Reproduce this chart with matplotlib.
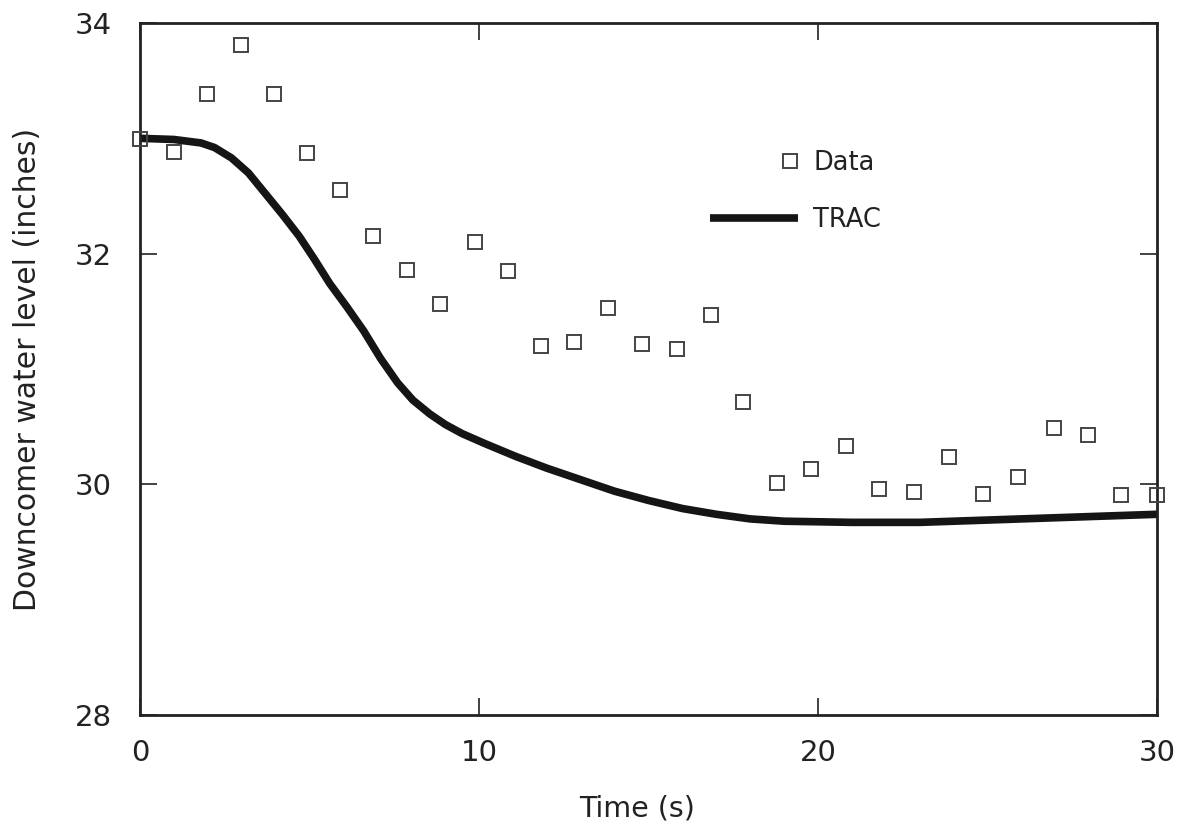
import matplotlib

matplotlib.use("Agg")

import matplotlib.pyplot as plt
from matplotlib.legend_handler import HandlerLine2DCompound

# measured data (squares)
data_t = [0.0, 1.0, 1.99, 2.97, 3.95, 4.92, 5.9, 6.88, 7.87, 8.85, 9.87,
          10.85, 11.83, 12.81, 13.82, 14.82, 15.84, 16.84, 17.8, 18.78,
          19.8, 20.83, 21.81, 22.84, 23.86, 24.87, 25.9, 26.95, 27.95,
          28.94, 30.0]
data_level = [32.99, 32.88, 33.38, 33.81, 33.38, 32.87, 32.55, 32.15, 31.86,
              31.56, 32.10, 31.85, 31.20, 31.23, 31.53, 31.22, 31.17, 31.47,
              30.71, 30.01, 30.13, 30.33, 29.96, 29.93, 30.24, 29.92, 30.06,
              30.49, 30.43, 29.91, 29.91]

# TRAC calculation (line)
trac_t = [0, 1.0, 1.8, 2.2, 2.7, 3.2, 3.7, 4.2, 4.7, 5.15, 5.6, 6.1, 6.6,
          7.1, 7.6, 8.05, 8.55, 9.0, 9.5, 10.2, 11.1, 12.0, 13.1, 14.0, 15.0,
          16.0, 17.0, 18.0, 19.0, 21.0, 23.0, 25.0, 27.0, 30.0]
trac_level = [33.0, 32.99, 32.96, 32.92, 32.83, 32.70, 32.52, 32.34, 32.15,
              31.95, 31.74, 31.54, 31.33, 31.09, 30.88, 30.73, 30.61, 30.52,
              30.44, 30.35, 30.24, 30.14, 30.03, 29.94, 29.86, 29.79, 29.74,
              29.70, 29.68, 29.67, 29.67, 29.69, 29.71, 29.74]

x_ticks = [0, 10, 20, 30]
y_ticks = [28, 30, 32, 34]


class RightMarkerHandler(HandlerLine2DCompound):
    # legend marker sits at the right end of the handle box
    def get_xdata(self, legend, xdescent, ydescent, width, height, fontsize):
        xdata = [-xdescent, -xdescent + width]
        return xdata, [-xdescent + width - 0.3 * fontsize]


plt.rcParams["font.family"] = ["DejaVu Sans"]

fig = plt.figure(figsize=(11.81, 8.30), dpi=100)
ax = fig.add_axes([0.1185, 0.1386, 0.8612, 0.8337])

data_line, = ax.plot(data_t, data_level, linestyle="none", marker="s",
                     markersize=10, markerfacecolor="none",
                     markeredgecolor="#444444", markeredgewidth=1.4,
                     label="Data", clip_on=False, zorder=3)
trac_line, = ax.plot(trac_t, trac_level, color="#151515", linewidth=5.5,
                     solid_capstyle="butt", solid_joinstyle="round",
                     label="TRAC", zorder=2)

ax.set_xlim(0, 30)
ax.set_ylim(28, 34)
ax.set_xticks(x_ticks)
ax.set_yticks(y_ticks)
ax.tick_params(direction="in", length=12, width=1.2, top=True, right=True,
               labelsize=21, colors="#222222")
ax.tick_params(axis="x", pad=17)
ax.tick_params(axis="y", pad=20)
for s in ax.spines.values():
    s.set_linewidth(2)
    s.set_color("#222222")

ax.set_xlabel("Time (s)", fontsize=20.5, color="#222222", labelpad=20)
ax.xaxis.label.set_x(0.489)
ax.set_ylabel("Downcomer water level (inches)", fontsize=21.5,
              color="#222222", labelpad=24)

leg = ax.legend(handles=[data_line, trac_line], loc="upper left",
                bbox_to_anchor=(0.548, 0.835), frameon=False, fontsize=18.5,
                handlelength=3.4, handletextpad=0.62, labelspacing=1.2,
                borderpad=0, numpoints=1,
                handler_map={data_line: RightMarkerHandler()})
for txt in leg.get_texts():
    txt.set_color("#222222")

fig.savefig("out.png", dpi=100, facecolor="white")
